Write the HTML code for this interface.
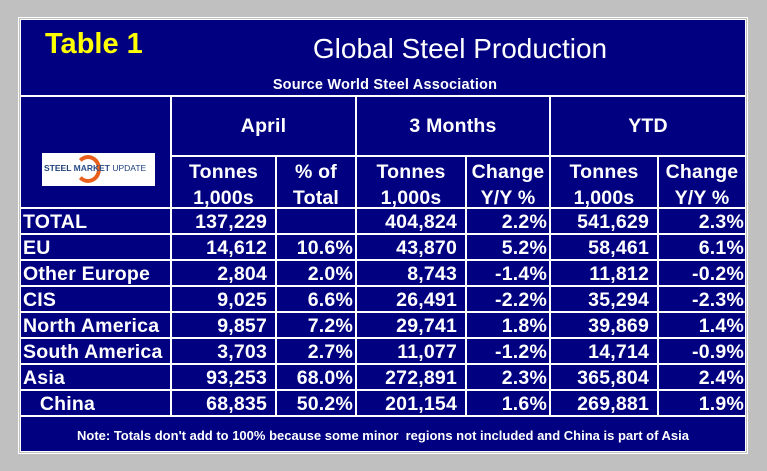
<!DOCTYPE html>
<html><head><meta charset="utf-8">
<style>
html,body{margin:0;padding:0}
body{width:767px;height:471px;background:#c0c0c0;position:relative;overflow:hidden;font-family:"Liberation Sans",Arial,sans-serif;color:#fff}
.frame{position:absolute;left:18px;top:17px;width:730px;height:437px;border:1px solid #fff;box-sizing:border-box;background:#c0c0c0}
.panel{position:absolute;left:20px;top:19px;width:726px;height:433px;background:#000080;border:1px solid #fff;box-sizing:border-box}
.h{position:absolute;height:2px;background:#fff}
.v{position:absolute;width:2px;background:#fff}
.t{position:absolute;font-weight:bold;font-size:19.5px;letter-spacing:0.2px;line-height:26px;white-space:nowrap}
.c{text-align:center}
.r{text-align:right}
</style></head><body>
<div class="frame"></div>
<div class="panel"></div>
<div class="t" style="left:45px;top:27px;font-size:29px;letter-spacing:0;line-height:34px;color:#ffff00">Table 1</div>
<div class="t c" style="left:290px;width:340px;top:32px;font-size:28px;letter-spacing:0;line-height:34px;font-weight:normal">Global Steel Production</div>
<div class="t c" style="left:220px;width:330px;top:75px;font-size:14.5px;letter-spacing:0.2px;line-height:20px">Source World Steel Association</div>

<div class="h" style="left:20px;width:726px;top:95px"></div>
<div class="h" style="left:171px;width:575px;top:155px"></div>
<div class="v" style="left:170px;top:95px;height:322px"></div>
<div class="v" style="left:275px;top:155px;height:262px"></div>
<div class="v" style="left:355px;top:95px;height:322px"></div>
<div class="v" style="left:465px;top:155px;height:262px"></div>
<div class="v" style="left:549px;top:95px;height:322px"></div>
<div class="v" style="left:657px;top:155px;height:262px"></div>

<div style="position:absolute;left:42px;top:153px;width:113px;height:33px;background:#fff;overflow:hidden">
<div style="position:absolute;left:33px;top:2px;width:26px;height:28px;border-radius:50%;border:4px solid #e8601c;border-left-color:transparent;box-sizing:border-box"></div>
<div style="position:absolute;left:2px;top:10px;font-size:8.5px;font-weight:bold;color:#1f3f7a;white-space:nowrap">STEEL <span style="color:#2b4f8a">MARKET</span> <span style="font-weight:normal">UPDATE</span></div>
</div>

<div class="t c" style="left:171px;width:185px;top:113px">April</div>
<div class="t c" style="left:356px;width:194px;top:113px">3 Months</div>
<div class="t c" style="left:550px;width:196px;top:113px">YTD</div>
<div class="t c" style="left:171px;width:105px;top:159px">Tonnes<br>1,000s</div>
<div class="t c" style="left:276px;width:80px;top:159px">% of<br>Total</div>
<div class="t c" style="left:356px;width:110px;top:159px">Tonnes<br>1,000s</div>
<div class="t c" style="left:466px;width:84px;top:159px">Change<br>Y/Y %</div>
<div class="t c" style="left:550px;width:108px;top:159px">Tonnes<br>1,000s</div>
<div class="t c" style="left:658px;width:88px;top:159px">Change<br>Y/Y %</div>

<div id="rows"></div>
<div class="t c" style="left:20px;width:726px;top:427px;font-size:13px;letter-spacing:0;line-height:18px">Note: Totals don't add to 100% because some minor&nbsp; regions not included and China is part of Asia</div>

<script>
const regions=["TOTAL","EU","Other Europe","CIS","North America","South America","Asia","China"];
const aprTonnes=["137,229","14,612","2,804","9,025","9,857","3,703","93,253","68,835"];
const aprPct=["","10.6%","2.0%","6.6%","7.2%","2.7%","68.0%","50.2%"];
const q3Tonnes=["404,824","43,870","8,743","26,491","29,741","11,077","272,891","201,154"];
const q3Chg=["2.2%","5.2%","-1.4%","-2.2%","1.8%","-1.2%","2.3%","1.6%"];
const ytdTonnes=["541,629","58,461","11,812","35,294","39,869","14,714","365,804","269,881"];
const ytdChg=["2.3%","6.1%","-0.2%","-2.3%","1.4%","-0.9%","2.4%","1.9%"];
const host=document.getElementById('rows');
const cols=[[aprTonnes,171,105,9],[aprPct,276,80,3],[q3Tonnes,356,110,9],[q3Chg,466,84,3],[ytdTonnes,550,108,9],[ytdChg,658,88,2]];
function add(txt,left,width,top,cls,pad){
  const d=document.createElement('div');
  d.className='t '+cls;
  d.style.left=left+'px';d.style.width=(width-pad)+'px';d.style.top=top+'px';
  d.textContent=txt;host.appendChild(d);return d;
}
regions.forEach((r,i)=>{
  const top=207+i*26;
  const ln=document.createElement('div');
  ln.className='h';ln.style.left='20px';ln.style.width='726px';ln.style.top=top+'px';
  host.appendChild(ln);
  const lab=add((r==="China"?"\u00a0\u00a0\u00a0":"")+r,23,146,top+2,'',0);
  
  
  cols.forEach(([arr,l,w,p])=>{
    const c=add(arr[i],l,w,top+2,'r',p);
    
    
  });
});
const last=document.createElement('div');
last.className='h';last.style.left='20px';last.style.width='726px';last.style.top=(207+regions.length*26)+'px';
host.appendChild(last);
</script>
</body></html>
